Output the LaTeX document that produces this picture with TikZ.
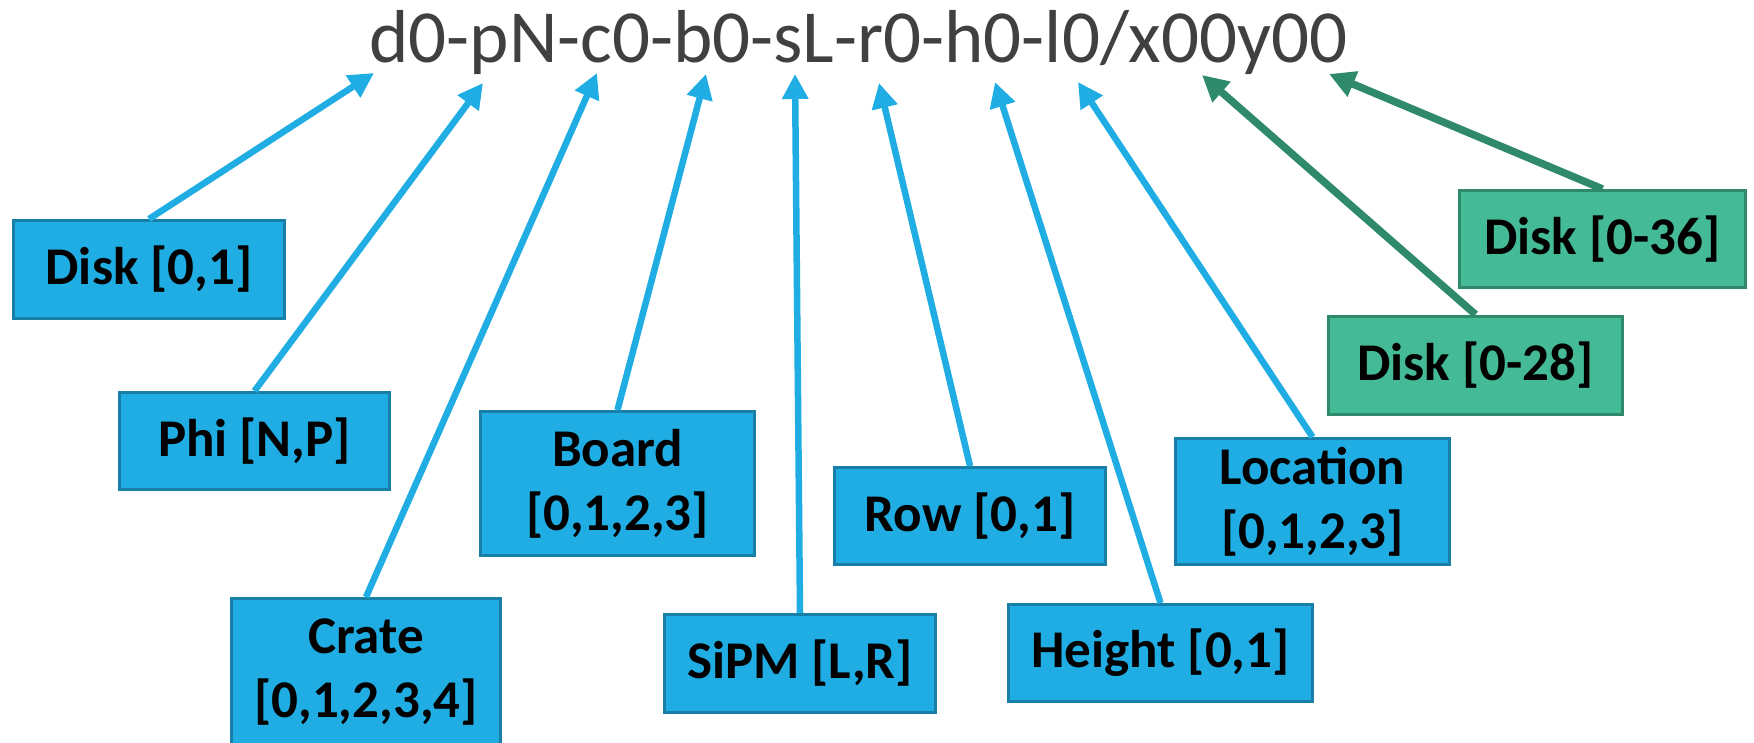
\documentclass[tikz,border=0pt]{standalone}
\usepackage{fontspec}
\setmainfont{Carlito}
\usetikzlibrary{arrows.meta}
\definecolor{bfill}{HTML}{1FADE3}
\definecolor{bdraw}{HTML}{177FA8}
\definecolor{gfill}{HTML}{44BA96}
\definecolor{gdraw}{HTML}{2E8A6B}
\definecolor{txt}{HTML}{404040}
\begin{document}
\begin{tikzpicture}[x=1pt,y=-1pt,
  bbox/.style={draw=bdraw, fill=bfill, line width=3pt, text=black,
    font=\fontsize{53}{64}\selectfont\bfseries, align=center, inner sep=0pt},
  gbox/.style={bbox, draw=gdraw, fill=gfill},
  barrow/.style={draw=bfill, line width=6.5pt, -{Triangle[length=25pt,width=25pt]}},
  garrow/.style={draw=gdraw, line width=7.5pt, -{Triangle[length=26pt,width=26pt]}},
  title/.style={text=txt, font=\fontsize{75}{90}\selectfont, inner sep=0pt, anchor=base}
]
\useasboundingbox (0,0) rectangle (1754,742);

\node[title] (code) at (858.5,62) {d0-pN-c0-b0-sL-r0-h0-l0/x00y00};

% tips
\coordinate (t1) at (374,73);
\coordinate (t2) at (483,83);
\coordinate (t3) at (597,73);
\coordinate (t4) at (706,74);
\coordinate (t5) at (795,74);
\coordinate (t6) at (879,83);
\coordinate (t7) at (995,82);
\coordinate (t8) at (1078,82);
\coordinate (t9) at (1202,75);
\coordinate (t10) at (1329,74);

% boxes
\node[bbox, minimum width=271pt, minimum height=98pt] (d01) at (149,269.5) {Disk [0,1]};
\node[bbox, minimum width=270pt, minimum height=97pt] (phi) at (254.5,441) {Phi [N,P]};
\node[bbox, minimum width=269pt, minimum height=147pt] (crate) at (366,672) {Crate\\{}[0,1,2,3,4]};
\node[bbox, minimum width=274pt, minimum height=144pt] (board) at (617.5,483.5) {Board\\{}[0,1,2,3]};
\node[bbox, minimum width=271pt, minimum height=98pt] (sipm) at (800,663.5) {SiPM [L,R]};
\node[bbox, minimum width=271pt, minimum height=97pt] (row) at (970,516) {Row [0,1]};
\node[bbox, minimum width=304pt, minimum height=97pt] (height) at (1160.5,653) {Height [0,1]};
\node[bbox, minimum width=274pt, minimum height=126pt] (loc) at (1312.5,501.5) {Location\\{}[0,1,2,3]};
\node[gbox, minimum width=294pt, minimum height=98pt] (d028) at (1475.5,365) {Disk [0-28]};
\node[gbox, minimum width=286pt, minimum height=97pt] (d036) at (1602.5,239) {Disk [0-36]};

% connectors
\draw[barrow] (d01.north) -- (t1);
\draw[barrow] (phi.north) -- (t2);
\draw[barrow] (crate.north) -- (t3);
\draw[barrow] (board.north) -- (t4);
\draw[barrow] (sipm.north) -- (t5);
\draw[barrow] (row.north) -- (t6);
\draw[barrow] (height.north) -- (t7);
\draw[barrow] (loc.north) -- (t8);
\draw[garrow] (d028.north) -- (t9);
\draw[garrow] (d036.north) -- (t10);
\end{tikzpicture}
\end{document}
